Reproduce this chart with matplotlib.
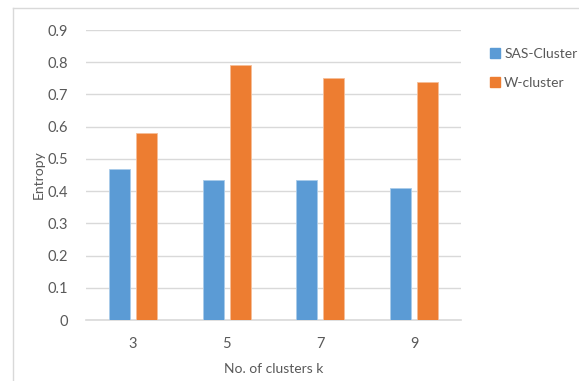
import matplotlib
matplotlib.use("Agg")
import matplotlib.pyplot as plt
from matplotlib.lines import Line2D
import numpy as np

categories = ["3", "5", "7", "9"]
sas_cluster = [0.47, 0.435, 0.435, 0.41]
w_cluster = [0.58, 0.79, 0.75, 0.74]
series_names = ["SAS-Cluster", "W-cluster"]
y_ticks = [0, 0.1, 0.2, 0.3, 0.4, 0.5, 0.6, 0.7, 0.8, 0.9]

blue = "#5B9BD5"
orange = "#ED7D31"
text_gray = "#595959"
grid_gray = "#D9D9D9"

plt.rcParams["font.family"] = ["Lato", "DejaVu Sans"]

W, H = 579, 381
fig = plt.figure(figsize=(W / 100, H / 100), dpi=100)
ax = fig.add_axes([86 / W, 1 - 320 / H, (461 - 86) / W, (320 - 30) / H])

x = np.arange(len(categories))
bw = 0.223
off = 0.144
ax.bar(x - off, sas_cluster, bw, color=blue, edgecolor="#A9CBEA", linewidth=0.6, zorder=3,
       label=series_names[0])
ax.bar(x + off, w_cluster, bw, color=orange, edgecolor="#F6BE98", linewidth=0.6, zorder=3,
       label=series_names[1])

ax.set_xlim(-0.5, len(categories) - 0.5)
ax.set_ylim(0, 0.9)
ax.set_yticks(y_ticks)
ax.set_yticklabels([f"{v:g}" for v in y_ticks])
ax.set_xticks(x)
ax.set_xticklabels(categories)

ax.yaxis.grid(True, color=grid_gray, linewidth=1.0, zorder=0)
ax.set_axisbelow(True)
for s in ["top", "right", "left"]:
    ax.spines[s].set_visible(False)
ax.spines["bottom"].set_color(grid_gray)
ax.spines["bottom"].set_linewidth(1.2)
ax.tick_params(axis="both", length=0, colors=text_gray, labelsize=10.5)
ax.tick_params(axis="y", pad=13)
ax.tick_params(axis="x", pad=12)

ax.set_xlabel("No. of clusters k", color=text_gray, fontsize=10, labelpad=9)
ax.set_ylabel("Entropy", color=text_gray, fontsize=10, labelpad=2)

# legend
handles = [
    Line2D([0], [0], marker="s", linestyle="none", markersize=7, markerfacecolor=blue,
           markeredgecolor=blue),
    Line2D([0], [0], marker="s", linestyle="none", markersize=7, markerfacecolor=orange,
           markeredgecolor=orange),
]
leg = fig.legend(handles, series_names, loc="upper left",
                 bbox_to_anchor=(482 / W, 1 - 41 / H), frameon=False,
                 fontsize=10, labelcolor=text_gray, handlelength=0.8,
                 handletextpad=0.3, labelspacing=1.2, borderpad=0)

# chart area border
fig.add_artist(Line2D([13 / W, 13 / W], [0, 1 - 8 / H], color=grid_gray, linewidth=1.0,
                      transform=fig.transFigure))
fig.add_artist(Line2D([13 / W, 1], [1 - 8 / H, 1 - 8 / H], color=grid_gray, linewidth=1.0,
                      transform=fig.transFigure))

fig.savefig("out.png", dpi=100)
